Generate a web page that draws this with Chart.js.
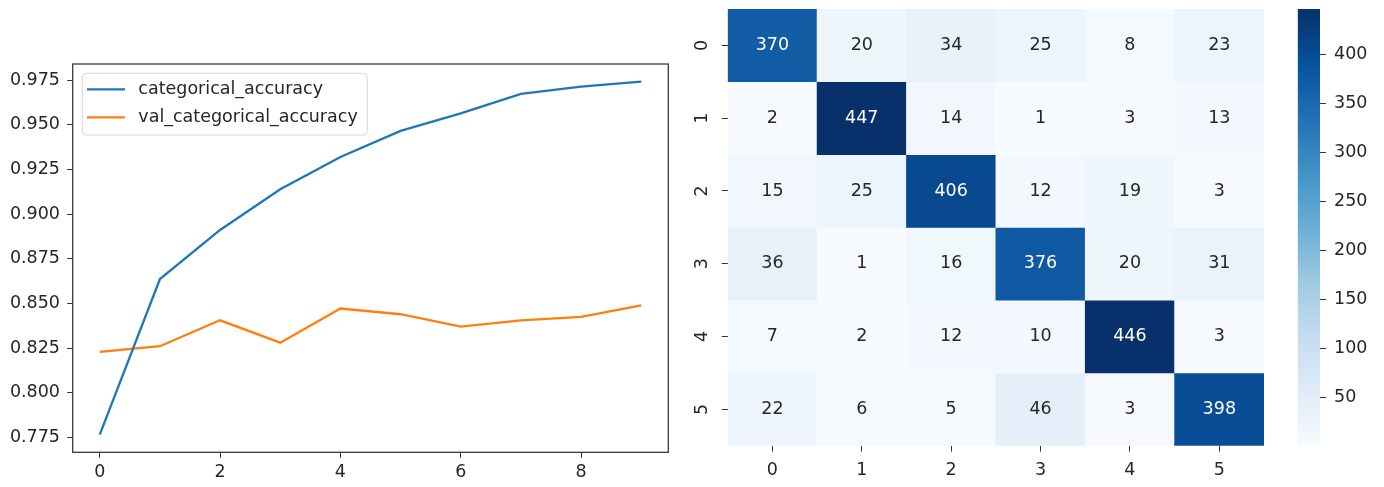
<!DOCTYPE html>
<html>
<head>
<meta charset="utf-8">
<title>Training accuracy and confusion matrix</title>
<script src="https://cdn.jsdelivr.net/npm/chart.js@4.4.0/dist/chart.umd.min.js"></script>
<style>
  html, body { margin: 0; padding: 0; background: #ffffff; }
  body { width: 1384px; height: 487px; position: relative; overflow: hidden; }
  canvas { position: absolute; top: 0; }
  #acc { left: 0; }
  #cm { left: 680px; }
  #cbar { left: 1290px; }
</style>
</head>
<body>
<canvas id="acc" width="680" height="487"></canvas>
<canvas id="cm" width="610" height="487"></canvas>
<canvas id="cbar" width="94" height="487"></canvas>
<script>
// ---- training history ----
const epochs = [0, 1, 2, 3, 4, 5, 6, 7, 8, 9];
const trainAcc = [0.7765, 0.8636, 0.8911, 0.9139, 0.9319, 0.9465, 0.9563, 0.9673, 0.9713, 0.9741];
const valAcc = [0.8228, 0.8260, 0.8405, 0.8280, 0.8471, 0.8439, 0.8370, 0.8405, 0.8424, 0.8488];
const accTicks = [0.775, 0.800, 0.825, 0.850, 0.875, 0.900, 0.925, 0.950, 0.975];
const epochTicks = [0, 2, 4, 6, 8];

// ---- confusion matrix (rows: true class, columns: predicted class) ----
const classLabels = ['0', '1', '2', '3', '4', '5'];
const row0 = [370, 20, 34, 25, 8, 23];
const row1 = [2, 447, 14, 1, 3, 13];
const row2 = [15, 25, 406, 12, 19, 3];
const row3 = [36, 1, 16, 376, 20, 31];
const row4 = [7, 2, 12, 10, 446, 3];
const row5 = [22, 6, 5, 46, 3, 398];
const colorbarTicks = [50, 100, 150, 200, 250, 300, 350, 400];

const confusion = [row0, row1, row2, row3, row4, row5];

// matplotlib "Blues" colour map control points
const bluesStops = ['#f7fbff', '#deebf7', '#c6dbef', '#9ecae1', '#6baed6',
                    '#4292c6', '#2171b5', '#08519c', '#08306b'];

const FONT = 'DejaVu Sans';
const TEXT = '#262626';
const AXIS = '#333333';

function hexToRgb(h) {
  return [parseInt(h.slice(1, 3), 16), parseInt(h.slice(3, 5), 16), parseInt(h.slice(5, 7), 16)];
}
function blues(t) {
  t = Math.max(0, Math.min(1, t));
  const n = bluesStops.length - 1;
  const i = Math.min(n - 1, Math.floor(t * n));
  const f = t * n - i;
  const a = hexToRgb(bluesStops[i]), b = hexToRgb(bluesStops[i + 1]);
  return a.map((v, k) => Math.round(v + (b[k] - v) * f));
}
function rgbStr(c) { return `rgb(${c[0]},${c[1]},${c[2]})`; }
function luminance(c) {
  const lin = c.map(v => { v /= 255; return v <= 0.03928 ? v / 12.92 : Math.pow((v + 0.055) / 1.055, 2.4); });
  return 0.2126 * lin[0] + 0.7152 * lin[1] + 0.0722 * lin[2];
}
// fixed axis sizes so the plot areas sit at exact positions
function fixWidth(w) {
  return s => { s.width = w; s.paddingTop = 0; s.paddingBottom = 0; };
}
function fixHeight(h) {
  return s => { s.height = h; s.paddingLeft = 0; s.paddingRight = 0; };
}

// ---------------- accuracy curves ----------------
const allAcc = trainAcc.concat(valAcc);
const accLo = Math.min(...allAcc), accHi = Math.max(...allAcc);
const accPad = (accHi - accLo) * 0.05;
const epPad = (epochs[epochs.length - 1] - epochs[0]) * 0.05;

const framePlugin = {
  id: 'frame',
  afterDatasetsDraw(chart) {
    const a = chart.chartArea, ctx = chart.ctx;
    ctx.save();
    ctx.strokeStyle = AXIS;
    ctx.lineWidth = 1.25;
    ctx.strokeRect(a.left, a.top, a.right - a.left, a.bottom - a.top);
    ctx.restore();
  }
};

const legendPlugin = {
  id: 'boxLegend',
  afterDraw(chart) {
    const a = chart.chartArea, ctx = chart.ctx;
    const sets = chart.data.datasets;
    ctx.save();
    ctx.font = `17.5px "${FONT}"`;
    const maxW = Math.max(...sets.map(d => ctx.measureText(d.label).width));
    const x0 = a.left + 9.6, y0 = a.top + 9.3;
    const w = 56 + maxW + 9.5, h = 61.7, r = 4;
    ctx.beginPath();
    ctx.roundRect(x0, y0, w, h, r);
    ctx.fillStyle = 'rgba(255,255,255,0.8)';
    ctx.fill();
    ctx.strokeStyle = '#d6d6d6';
    ctx.lineWidth = 1;
    ctx.stroke();
    sets.forEach((d, i) => {
      const cy = y0 + 16 + i * 28;
      ctx.beginPath();
      ctx.moveTo(x0 + 4.7, cy);
      ctx.lineTo(x0 + 42.7, cy);
      ctx.strokeStyle = d.borderColor;
      ctx.lineWidth = 2.3;
      ctx.stroke();
      ctx.fillStyle = TEXT;
      ctx.textAlign = 'left';
      ctx.textBaseline = 'middle';
      ctx.fillText(d.label, x0 + 56, cy);
    });
    ctx.restore();
  }
};

new Chart(document.getElementById('acc'), {
  type: 'line',
  data: {
    datasets: [
      { label: 'categorical_accuracy', data: epochs.map((e, i) => ({ x: e, y: trainAcc[i] })),
        borderColor: '#1f77b4', backgroundColor: '#1f77b4' },
      { label: 'val_categorical_accuracy', data: epochs.map((e, i) => ({ x: e, y: valAcc[i] })),
        borderColor: '#ff7f0e', backgroundColor: '#ff7f0e' }
    ]
  },
  options: {
    responsive: false, animation: false, devicePixelRatio: 1,
    layout: { padding: { top: 64, right: 11.7, left: 0, bottom: 0 } },
    plugins: { legend: { display: false }, tooltip: { enabled: false } },
    elements: { point: { radius: 0 }, line: { tension: 0, borderWidth: 2.3 } },
    scales: {
      x: {
        type: 'linear', min: epochs[0] - epPad, max: epochs[epochs.length - 1] + epPad,
        afterBuildTicks: s => { s.ticks = epochTicks.map(v => ({ value: v })); },
        afterFit: fixHeight(34.7),
        grid: { drawOnChartArea: false, tickLength: 5.5, color: AXIS, lineWidth: 1 },
        border: { display: false },
        ticks: { padding: 4, color: TEXT, autoSkip: false, maxRotation: 0,
                 font: { family: FONT, size: 17.5 }, callback: v => String(v) }
      },
      y: {
        type: 'linear', min: accLo - accPad, max: accHi + accPad,
        afterBuildTicks: s => { s.ticks = accTicks.map(v => ({ value: v })); },
        afterFit: fixWidth(72.7),
        grid: { drawOnChartArea: false, tickLength: 5.5, color: AXIS, lineWidth: 1 },
        border: { display: false },
        ticks: { padding: 7.2, color: TEXT, autoSkip: false,
                 font: { family: FONT, size: 17.5 }, callback: v => v.toFixed(3) }
      }
    }
  },
  plugins: [framePlugin, legendPlugin]
});

// ---------------- confusion matrix heatmap ----------------
const allCounts = confusion.flat();
const vmin = Math.min(...allCounts), vmax = Math.max(...allCounts);
const cellRgb = confusion.map(row => row.map(v => blues((v - vmin) / (vmax - vmin))));

const annotatePlugin = {
  id: 'cellText',
  afterDatasetsDraw(chart) {
    const ctx = chart.ctx;
    ctx.save();
    ctx.font = `17.5px "${FONT}"`;
    ctx.textAlign = 'center';
    ctx.textBaseline = 'middle';
    chart.data.datasets.forEach((ds, r) => {
      chart.getDatasetMeta(r).data.forEach((bar, j) => {
        const p = bar.getProps(['x', 'y', 'base'], true);
        ctx.fillStyle = luminance(cellRgb[r][j]) > 0.408 ? TEXT : '#ffffff';
        ctx.fillText(String(confusion[r][j]), p.x, (p.y + p.base) / 2);
      });
    });
    ctx.restore();
  }
};

new Chart(document.getElementById('cm'), {
  type: 'bar',
  data: {
    labels: classLabels,
    datasets: confusion.map((row, r) => ({
      label: classLabels[r],
      data: row.map(() => [r, r + 1]),
      backgroundColor: cellRgb[r].map(rgbStr),
      borderWidth: 0, barPercentage: 1, categoryPercentage: 1, grouped: false
    }))
  },
  options: {
    responsive: false, animation: false, devicePixelRatio: 1,
    layout: { padding: { top: 9, right: 26, left: 0, bottom: 0 } },
    plugins: { legend: { display: false }, tooltip: { enabled: false } },
    scales: {
      x: {
        afterFit: fixHeight(41.3),
        grid: { offset: false, drawOnChartArea: false, tickLength: 6, color: AXIS, lineWidth: 1 },
        border: { display: false },
        ticks: { padding: 8.5, color: TEXT, maxRotation: 0, font: { family: FONT, size: 17.5 } }
      },
      y: {
        type: 'linear', min: 0, max: classLabels.length, reverse: true,
        afterBuildTicks: s => { s.ticks = classLabels.map((_, i) => ({ value: i + 0.5 })); },
        afterFit: fixWidth(47.7),
        grid: { drawOnChartArea: false, tickLength: 6, color: AXIS, lineWidth: 1 },
        border: { display: false },
        ticks: { padding: 14, color: TEXT, autoSkip: false, minRotation: 90, maxRotation: 90,
                 crossAlign: 'center', font: { family: FONT, size: 17.5 },
                 callback: (v, i) => classLabels[i] }
      }
    }
  },
  plugins: [annotatePlugin]
});

// ---------------- colour bar ----------------
new Chart(document.getElementById('cbar'), {
  type: 'bar',
  data: {
    labels: [''],
    datasets: [{
      data: [[vmin, vmax]],
      backgroundColor: c => {
        const ch = c.chart;
        if (!ch.chartArea) return bluesStops[0];
        const ys = ch.scales.y;
        const g = ch.ctx.createLinearGradient(0, ys.getPixelForValue(vmin), 0, ys.getPixelForValue(vmax));
        bluesStops.forEach((h, i) => g.addColorStop(i / (bluesStops.length - 1), h));
        return g;
      },
      borderWidth: 0, barPercentage: 1, categoryPercentage: 1
    }]
  },
  options: {
    responsive: false, animation: false, devicePixelRatio: 1,
    layout: { padding: { top: 9, left: 7.7, right: 0, bottom: 42 } },
    plugins: { legend: { display: false }, tooltip: { enabled: false } },
    scales: {
      x: { display: false },
      y: {
        position: 'right', min: vmin, max: vmax,
        afterBuildTicks: s => { s.ticks = colorbarTicks.map(v => ({ value: v })); },
        afterFit: fixWidth(64),
        grid: { drawOnChartArea: false, tickLength: 6, color: AXIS, lineWidth: 1 },
        border: { display: false },
        ticks: { padding: 8, color: TEXT, autoSkip: false, font: { family: FONT, size: 17.5 },
                 callback: v => String(v) }
      }
    }
  }
});
</script>
</body>
</html>
